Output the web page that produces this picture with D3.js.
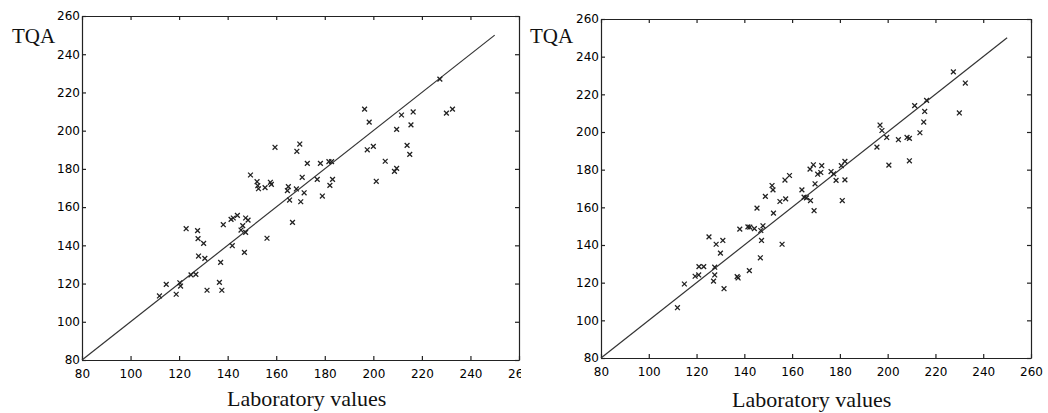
<!DOCTYPE html>
<html>
<head>
<meta charset="utf-8">
<script src="https://cdn.jsdelivr.net/npm/d3@7"></script>
<style>
  body { margin: 0; background: #fff; }
  .tick text { font-family: 'DejaVu Sans', sans-serif; font-size: 12px; fill: #000; }
  .tick line, .domain { stroke: #222; stroke-width: 1.2; }
  .axis-title { font-family: 'Liberation Serif', 'Times New Roman', serif; fill: #111; }
  .fit { stroke: #333; stroke-width: 1.2; fill: none; }
  .mark { stroke: #222; stroke-width: 1.3; fill: none; }
</style>
</head>
<body>
<svg id="chart" width="1048" height="413"></svg>
<script>
const xTicks = [80, 100, 120, 140, 160, 180, 200, 220, 240, 260];
const yTicks = [80, 100, 120, 140, 160, 180, 200, 220, 240, 260];
const fitEnds = [80, 250];

// left panel: laboratory value vs TQA estimate
const leftLab = [111.9, 114.7, 118.8, 120.3, 120.6, 122.9, 124.9, 126.9, 127.6, 127.8,
  128.0, 130.1, 130.6, 131.5, 136.6, 137.1, 137.6, 138.2, 141.4, 141.9,
  142.3, 144.0, 145.5, 146.2, 146.9, 147.4, 147.4, 148.4, 149.4, 152.1,
  152.4, 152.7, 155.4, 156.2, 157.6, 158.0, 159.5, 164.6, 165.0, 165.5,
  166.7, 168.3, 168.5, 169.7, 170.1, 170.7, 171.5, 172.8, 176.9, 178.2,
  179.0, 181.7, 182.1, 182.8, 183.2, 196.4, 197.5, 198.3, 200.0, 201.2,
  204.9, 208.7, 209.6, 209.6, 211.6, 213.9, 215.0, 215.5, 216.4, 227.4,
  230.1, 232.6];
const leftTqa = [113.5, 119.6, 114.4, 120.4, 118.7, 148.7, 124.5, 124.8, 147.7, 143.5,
  134.4, 141.0, 133.2, 116.5, 120.6, 131.1, 116.5, 150.8, 153.6, 139.8,
  154.3, 155.7, 148.0, 150.3, 136.3, 154.3, 146.8, 153.2, 176.8, 173.3,
  171.2, 169.6, 170.2, 143.7, 173.0, 171.9, 191.3, 168.6, 170.7, 163.7,
  152.0, 169.5, 189.2, 193.0, 162.8, 175.6, 167.5, 182.9, 174.5, 182.9,
  165.8, 183.8, 171.4, 183.8, 174.5, 211.3, 190.0, 204.5, 191.8, 173.5,
  184.0, 178.7, 180.3, 200.7, 208.2, 192.3, 187.6, 203.0, 209.8, 227.0,
  209.2, 211.3];

// right panel
const rightLab = [112.0, 114.9, 119.4, 120.9, 121.0, 123.0, 127.6, 127.6, 127.1, 131.5,
  125.2, 128.2, 131.0, 130.0, 137.0, 137.4, 142.1, 138.1, 141.5, 142.3,
  144.2, 147.8, 146.9, 147.2, 146.7, 155.8, 145.3, 148.8, 152.2, 151.6,
  152.0, 154.9, 157.3, 157.0, 158.9, 167.5, 168.9, 170.7, 169.6, 164.1,
  165.0, 166.0, 167.7, 169.2, 172.4, 172.0, 176.3, 177.4, 180.6, 182.1,
  178.4, 182.1, 181.0, 195.5, 196.8, 197.6, 199.6, 200.5, 204.5, 208.1,
  209.1, 209.1, 211.3, 213.5, 215.1, 215.5, 216.3, 227.5, 230.0, 232.5];
const rightTqa = [106.7, 119.3, 123.4, 124.1, 128.5, 128.5, 128.2, 124.1, 120.8, 116.8,
  144.3, 140.4, 142.4, 135.7, 123.2, 122.5, 126.4, 148.4, 149.6, 149.5,
  148.7, 150.2, 147.7, 142.4, 133.2, 140.4, 159.6, 165.8, 156.9, 171.6,
  169.3, 163.1, 164.5, 174.5, 176.9, 180.3, 182.6, 177.6, 172.5, 169.3,
  165.4, 165.0, 163.6, 158.2, 182.1, 178.5, 179.0, 177.8, 182.1, 184.4,
  174.3, 174.6, 163.6, 192.0, 203.7, 200.8, 197.1, 182.4, 195.9, 197.1,
  196.6, 184.7, 214.0, 199.6, 205.3, 210.9, 216.8, 231.9, 210.1, 226.0];

const svg = d3.select('#chart');

svg.append('defs').append('clipPath')
  .attr('id', 'leftClip')
  .append('rect')
  .attr('x', 0)
  .attr('y', 0)
  .attr('width', 521)
  .attr('height', 413);

const renderPanel = (g, opts) => {
  const { lab, tqa, xr, yr, titleX, titleY, labelX, labelY } = opts;
  const x = d3.scaleLinear().domain([80, 260]).range(xr);
  const y = d3.scaleLinear().domain([80, 260]).range(yr);

  // box with inward ticks, MATLAB style
  g.append('g')
    .attr('transform', `translate(0,${yr[0]})`)
    .call(d3.axisBottom(x).tickValues(xTicks).tickSizeInner(-4).tickSizeOuter(0).tickPadding(9));
  g.append('g')
    .attr('transform', `translate(${xr[0]},0)`)
    .call(d3.axisLeft(y).tickValues(yTicks).tickSizeInner(-4).tickSizeOuter(0).tickPadding(2));
  g.append('g')
    .attr('transform', `translate(0,${yr[1]})`)
    .call(d3.axisTop(x).tickValues(xTicks).tickSizeInner(-4).tickSizeOuter(0).tickFormat(''));
  g.append('g')
    .attr('transform', `translate(${xr[1]},0)`)
    .call(d3.axisRight(y).tickValues(yTicks).tickSizeInner(-4).tickSizeOuter(0).tickFormat(''));

  g.append('line')
    .attr('class', 'fit')
    .attr('x1', x(fitEnds[0]))
    .attr('y1', y(fitEnds[0]))
    .attr('x2', x(fitEnds[1]))
    .attr('y2', y(fitEnds[1]));

  const s = 2.4;
  g.append('g').selectAll('path')
    .data(lab.map((d, i) => ({ lab: d, tqa: tqa[i] })))
    .enter().append('path')
    .attr('class', 'mark')
    .attr('d', (d) => {
      const cx = x(d.lab);
      const cy = y(d.tqa);
      return `M${cx - s},${cy - s}L${cx + s},${cy + s}M${cx - s},${cy + s}L${cx + s},${cy - s}`;
    });

  g.append('text')
    .attr('class', 'axis-title')
    .attr('x', titleX)
    .attr('y', titleY)
    .style('font-size', '21px')
    .text('TQA');

  g.append('text')
    .attr('class', 'axis-title')
    .attr('x', labelX)
    .attr('y', labelY)
    .style('font-size', '22px')
    .text('Laboratory values');
};

const left = svg.append('g').attr('clip-path', 'url(#leftClip)');
renderPanel(left, {
  lab: leftLab,
  tqa: leftTqa,
  xr: [82, 519],
  yr: [360, 16],
  titleX: 12,
  titleY: 43,
  labelX: 227,
  labelY: 406,
});

const right = svg.append('g');
renderPanel(right, {
  lab: rightLab,
  tqa: rightTqa,
  xr: [601, 1031],
  yr: [358, 19],
  titleX: 530,
  titleY: 43,
  labelX: 732,
  labelY: 407,
});
</script>
</body>
</html>
